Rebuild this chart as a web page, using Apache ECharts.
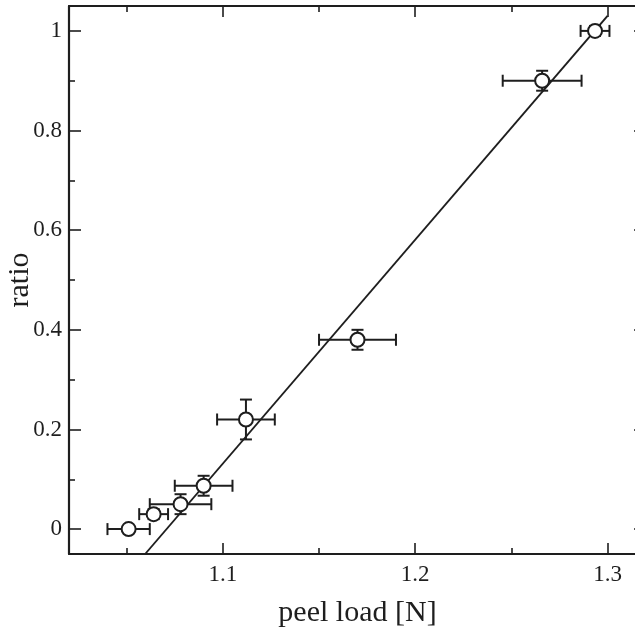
<!DOCTYPE html>
<html>
<head>
<meta charset="utf-8">
<script src="https://cdn.jsdelivr.net/npm/echarts@6/dist/echarts.min.js"></script>
<style>
  html, body { margin: 0; padding: 0; background: #fff; }
  #main { width: 635px; height: 628px; }
</style>
</head>
<body>
<div id="main"></div>
<script>
  // measured points (peel load vs ratio) with error bars
  var peelLoad = [1.051, 1.064, 1.078, 1.090, 1.112, 1.170, 1.266, 1.2935];
  var ratio    = [0, 0.03, 0.05, 0.087, 0.22, 0.38, 0.90, 1.00];
  var loadErr  = [0.011, 0.0075, 0.016, 0.015, 0.015, 0.02, 0.0205, 0.0075];
  var ratioErr = [0, 0.01, 0.02, 0.02, 0.04, 0.02, 0.02, 0.01];

  // fitted straight line
  var fitLoad  = [1.0596, 1.300];
  var fitRatio = [-0.05, 1.03];

  var ink = '#1e1e1e';
  var font = 'Liberation Serif';

  var myChart = echarts.init(document.getElementById('main'));

  var errData = [];
  for (var i = 0; i < peelLoad.length; i++) {
    errData.push([peelLoad[i], ratio[i], loadErr[i], ratioErr[i]]);
  }
  var pts = [];
  for (var i = 0; i < peelLoad.length; i++) {
    pts.push([peelLoad[i], ratio[i]]);
  }
  var fit = [];
  for (var i = 0; i < fitLoad.length; i++) {
    fit.push([fitLoad[i], fitRatio[i]]);
  }

  function seg(x1, y1, x2, y2) {
    return {
      type: 'line',
      shape: {x1: x1, y1: y1, x2: x2, y2: y2},
      style: {stroke: ink, lineWidth: 2}
    };
  }

  function renderErr(params, api) {
    var x = api.value(0), y = api.value(1);
    var ex = api.value(2), ey = api.value(3);
    var l = api.coord([x - ex, y]);
    var r = api.coord([x + ex, y]);
    var kids = [
      seg(l[0], l[1], r[0], r[1]),
      seg(l[0], l[1] - 6, l[0], l[1] + 6),
      seg(r[0], r[1] - 6, r[0], r[1] + 6)
    ];
    if (ey > 0) {
      var t = api.coord([x, y + ey]);
      var b = api.coord([x, y - ey]);
      kids.push(seg(t[0], t[1], b[0], b[1]));
      kids.push(seg(t[0] - 6, t[1], t[0] + 6, t[1]));
      kids.push(seg(b[0] - 6, b[1], b[0] + 6, b[1]));
    }
    return {type: 'group', children: kids};
  }

  function xAx(top) {
    return {
      type: 'value',
      position: top ? 'top' : 'bottom',
      min: 1.02,
      max: 1.32,
      splitNumber: 3,
      name: top ? '' : 'peel load [N]',
      nameLocation: 'middle',
      nameGap: 44,
      nameMoveOverlap: false,
      nameTextStyle: {color: ink, fontFamily: font, fontSize: 30},
      axisLine: {show: true, onZero: false, lineStyle: {color: ink, width: 2.2}},
      axisTick: {show: true, inside: true, length: 11, lineStyle: {color: ink, width: 1.6}},
      minorTick: {show: true, splitNumber: 2, length: 6, lineStyle: {color: ink, width: 1.6}},
      splitLine: {show: false},
      axisLabel: {
        show: !top,
        showMinLabel: false,
        showMaxLabel: false,
        margin: 9,
        color: ink,
        fontFamily: font,
        fontSize: 23
      }
    };
  }

  function yAx(right) {
    return {
      type: 'value',
      position: right ? 'right' : 'left',
      min: -0.05,
      max: 1.05,
      splitNumber: 5,
      name: right ? '' : 'ratio',
      nameLocation: 'middle',
      nameGap: 34,
      nameMoveOverlap: false,
      nameTextStyle: {color: ink, fontFamily: font, fontSize: 30},
      axisLine: {show: true, onZero: false, lineStyle: {color: ink, width: 2.2}},
      axisTick: {show: true, inside: true, length: 12, lineStyle: {color: ink, width: 1.6}},
      minorTick: {show: true, splitNumber: 2, length: 6, lineStyle: {color: ink, width: 1.6}},
      splitLine: {show: false},
      axisLabel: {
        show: !right,
        showMinLabel: false,
        showMaxLabel: false,
        margin: 7,
        color: ink,
        fontFamily: font,
        fontSize: 23
      }
    };
  }

  var option = {
    backgroundColor: '#fff',
    animation: false,
    grid: {
      left: 69,
      top: 6,
      right: -11,
      bottom: 74,
      containLabel: false,
      outerBoundsMode: 'none'
    },
    xAxis: [xAx(false), xAx(true)],
    yAxis: [yAx(false), yAx(true)],
    series: [
      {
        name: 'fit',
        type: 'line',
        data: fit,
        symbol: 'none',
        lineStyle: {color: ink, width: 1.9},
        z: 2
      },
      {
        name: 'error',
        type: 'custom',
        renderItem: renderErr,
        data: errData,
        encode: {x: 0, y: 1},
        z: 3
      },
      {
        name: 'points',
        type: 'scatter',
        data: pts,
        symbol: 'circle',
        symbolSize: 14,
        itemStyle: {color: '#fff', borderColor: ink, borderWidth: 2, opacity: 1},
        z: 4
      }
    ]
  };
  myChart.setOption(option, true);
</script>
</body>
</html>
